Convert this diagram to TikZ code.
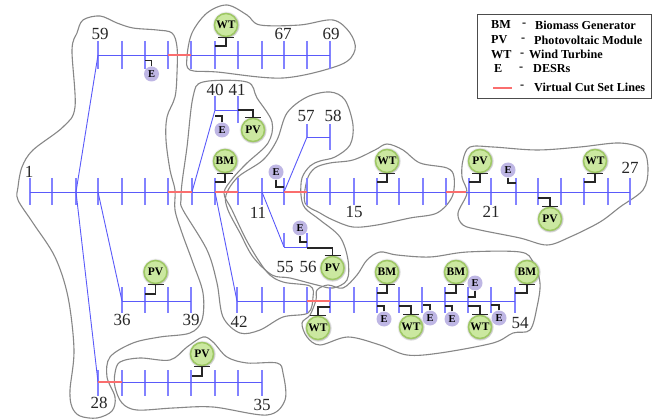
\documentclass[tikz,border=0pt]{standalone}
\usepackage{fontspec}
\setmainfont{Liberation Serif}
\usetikzlibrary{positioning,shadows}
\definecolor{busblue}{RGB}{90,90,250}
\definecolor{tickblue}{RGB}{130,130,255}
\definecolor{cutred}{RGB}{250,110,110}
\definecolor{zonegray}{RGB}{135,135,135}
\definecolor{srcgreen}{RGB}{203,232,160}
\definecolor{srcedge}{RGB}{158,200,100}
\definecolor{desrviolet}{RGB}{190,182,228}
\tikzset{
        bus/.style={draw=busblue, line width=0.9pt},
        bustick/.style={draw=tickblue, line width=1.2pt},
        cut/.style={draw=cutred, line width=1.5pt},
        zone/.style={draw=zonegray, line width=1.1pt},
        tie/.style={draw=black!85, line width=1.3pt},
        source/.style={circle, draw=srcedge, line width=1.5pt, fill=srcgreen, inner sep=0pt,
          minimum size=23pt, font=\bfseries\fontsize{11.5}{12}\selectfont,
          circular glow={fill=black!60, opacity=0.4, shadow scale=1.2}},
        desr/.style={circle, fill=desrviolet, inner sep=0pt, minimum size=15pt,
          font=\bfseries\fontsize{10.5}{12}\selectfont},
        busno/.style={font=\fontsize{17}{18}\selectfont, text=black!85, inner sep=0pt},
        legendtext/.style={anchor=west, inner sep=0pt, font=\bfseries\fontsize{12.2}{13}\selectfont}
}
\begin{document}
\begin{tikzpicture}[x=1pt,y=-1pt]
        \useasboundingbox (0,0) rectangle (652,419);
        \fill[white] (0,0) rectangle (652,419);

        \draw[zone] plot[smooth cycle, tension=0.55] coordinates {(77,33) (83,20) (100,16) (117,23)
          (133,28) (157,30) (172,33) (177,47) (177,73) (175,97) (167,117) (166,140) (170,170)
          (175,190) (175,210) (182,233) (193,263) (203,293) (202,320) (190,333) (160,337)
          (133,343) (110,357) (107,377) (115,397) (112,411) (97,418) (80,416) (72,407) (70,390) (74,350)
          (68,297) (55,257) (33,223) (18,200) (18,187) (22,167) (33,150) (63,127) (75,107) (72,50)};
        \draw[zone] plot[smooth cycle, tension=0.55] coordinates {(187,57) (192,33) (207,13) (227,5)
          (247,15) (260,25) (300,25) (333,20) (350,33) (355,50) (340,65) (283,78) (217,72) (190,70)};
        \draw[zone] plot[smooth cycle, tension=0.55] coordinates {(182,183) (187,147) (193,97)
          (203,82) (247,82) (257,98) (272,122) (268,143) (247,163) (233,178) (224,193) (232,210)
          (248,243) (267,272) (283,282) (310,286) (313,297) (308,313) (283,317) (260,330)
          (240,333) (223,317) (217,283) (207,250) (183,210) (181,200)};
        \draw[zone] plot[smooth cycle, tension=0.55] coordinates {(238,177) (263,160) (277,140)
          (287,113) (307,97) (330,92) (345,100) (353,125) (350,145) (335,157) (320,161) (310,166)
          (302,178) (301,195) (305,208) (320,220) (340,237) (348,260) (347,280) (333,288)
          (317,285) (290,278) (272,275) (253,257) (240,233) (228,210) (226,195)};
        \draw[zone] plot[smooth cycle, tension=0.55] coordinates {(353,160) (375,150) (387,144)
          (403,150) (420,163) (447,168) (454,177) (452,197) (437,213) (410,218) (377,225)
          (353,227) (333,220) (320,213) (305,203) (307,180) (315,168) (330,163)};
        \draw[zone] plot[smooth cycle, tension=0.55] coordinates {(463,160) (470,147) (493,147)
          (537,150) (580,147) (620,143) (643,150) (648,170) (643,190) (620,207) (600,222)
          (570,237) (547,245) (520,238) (480,230) (463,225) (458,213) (467,193) (462,177)};
        \draw[zone] plot[smooth cycle, tension=0.55] coordinates {(380,252) (397,255) (430,257)
          (467,252) (520,252) (533,262) (540,283) (537,307) (530,330) (513,333) (493,343)
          (440,353) (407,355) (380,345) (348,337) (320,345) (307,337) (302,323) (310,315)
          (316,300) (317,290) (328,285) (343,288) (357,275) (367,260)};
        \draw[zone] plot[smooth cycle, tension=0.55] coordinates {(115,387) (115,373) (120,362)
          (140,358) (170,360) (187,347) (203,337) (213,342) (227,357) (247,363) (277,363)
          (283,373) (285,400) (267,415) (213,407) (173,408) (137,410) (122,403)};

        \foreach \x in {30,52,76,98,122,145,168,192,215,238,262,284,307,330,354,377,399,423,446,469,491,516,538,561,584,608,630} {
          \coordinate (m\x) at (\x,192);
          \draw[bustick] (m\x) ++(0,-14) -- ++(0,27);
        }
        \foreach \x in {98,122,145,168,191,215,238,262,284,307,330} {
          \coordinate (t\x) at (\x,55);
          \draw[bustick] (t\x) ++(0,-14) -- ++(0,28);
        }
        \foreach \x in {122,145,168,191} {
          \coordinate (p\x) at (\x,301);
          \draw[bustick] (p\x) ++(0,-14) -- ++(0,26);
        }
        \foreach \x in {237,262,284,307,330,354,377,399,422,445,468,491,515} {
          \coordinate (q\x) at (\x,301);
          \draw[bustick] (q\x) ++(0,-14) -- ++(0,26);
        }
        \foreach \x in {98,122,145,168,191,215,238,262} {
          \coordinate (r\x) at (\x,382);
          \draw[bustick] (r\x) ++(0,-12) -- ++(0,26);
        }
        \coordinate (a215) at (215,110); \coordinate (a238) at (238,110);
        \draw[bustick] (a215) ++(0,-14) -- ++(0,14);
        \draw[bustick] (a238) ++(0,-14) -- ++(0,27);
        \coordinate (b307) at (307,137); \coordinate (b330) at (330,137);
        \draw[bustick] (b307) ++(0,-13) -- ++(0,13);
        \draw[bustick] (b330) ++(0,-13) -- ++(0,26);
        \coordinate (c284) at (284,247); \coordinate (c307) at (307,247);
        \draw[bustick] (c284) ++(0,-14) -- ++(0,14);
        \draw[bustick] (c307) ++(0,-14) -- ++(0,14);

        \draw[bus] (m30) -- (m630);
        \draw[bus] (t98) -- (t330);
        \draw[bus] (p122) -- (p191);
        \draw[bus] (q237) -- (q515);
        \draw[bus] (r122) -- (r262);
        \draw[bus] (a215) -- (a238);
        \draw[bus] (b307) -- (b330);
        \draw[bus] (c284) -- (c307);
        \draw[bus] (m76) -- (t98);
        \draw[bus] (m76) -- (r98);
        \draw[bus] (m98) -- (p122);
        \draw[bus] (m192) -- (a215);
        \draw[bus] (m215) -- (q237);
        \draw[bus] (m284) -- (b307);
        \draw[bus] (m262) -- (c284);
        \draw[cut] (m168) -- (m192);
        \draw[cut] (m215) -- (m238);
        \draw[cut] (m284) -- (m307);
        \coordinate (cutend) at (466,192);
        \draw[cut] (m446) -- (cutend);
        \draw[cut] (t168) -- (t191);
        \draw[cut] (q307) -- (q330);
        \draw[cut] (r98) -- (r122);

        \foreach \name/\txt/\x/\y/\tx/\ty in {wta/WT/226/25/215/46, bma/BM/225/161/215/182,
          wtb/WT/387/161/377/182, pva/PV/480/161/469/182, wtc/WT/595/161/584/182,
          pvb/PV/155.5/272/145/294, pvc/PV/202/354/192/376, bmb/BM/387/272/377/293,
          bmc/BM/456/272/445/293, bmd/BM/527/272/515/293} {
          \node[source] (\name) at (\x,\y) {\txt};
          \coordinate (\name bus) at (\tx,\ty);
          \draw[tie] (\name.south) |- (\name bus);
          \draw[tie] ([xshift=-8pt]\name.south) -- ([xshift=8pt]\name.south);
        }
        \foreach \name/\txt/\x/\y/\tx/\ty in {pvd/PV/253/130/238/110, pve/PV/550/219/538/198,
          pvf/PV/332.5/268/307/248, wtd/WT/318/328/330/307, wte/WT/411/327/399/306,
          wtf/WT/480/327/468/306} {
          \node[source] (\name) at (\x,\y) {\txt};
          \coordinate (\name bus) at (\tx,\ty);
          \draw[tie] (\name.north) |- (\name bus);
          \draw[tie] ([xshift=-8pt]\name.north) -- ([xshift=8pt]\name.north);
        }
        \foreach \name/\x/\y/\tx/\ty in {ea/151.5/74/145/60.5, eb/222/130/215/116,
          ec/384/319/377/306, ed/430/318/423/305, ee/452/319/445/306, ef/499/318/491/305} {
          \node[desr] (\name) at (\x,\y) {E};
          \coordinate (\name bus) at (\tx,\ty);
          \draw[tie] (\name.north) |- (\name bus);
        }
        \foreach \name/\x/\y/\tx/\ty in {eg/276/172/284/187, eh/508/170/516/183,
          ei/300/228/307/242, ej/475/283/468/297} {
          \node[desr] (\name) at (\x,\y) {E};
          \coordinate (\name bus) at (\tx,\ty);
          \draw[tie] (\name.south) |- (\name bus);
        }

        \foreach \name/\txt/\x/\y in {n1/1/29/172, n59/59/100/34, n40/40/215/90, n41/41/237/90,
          n57/57/306/116, n58/58/333/116, n67/67/283/34, n69/69/331/34, n11/11/258/213,
          n15/15/354/212, n21/21/491/212, n27/27/630/168, n36/36/122/320, n39/39/191/320,
          n42/42/239/322, n55/55/285/267, n56/56/308/267, n54/54/520/323, n28/28/99/403,
          n35/35/262/405}
          \node[busno] (\name) at (\x,\y) {\txt};

        \node[draw=black!70, line width=1pt, minimum width=174pt, minimum height=84pt] (legendbox) at (564,57) {};
        \node[legendtext] (lbm) at (491,25) {BM}; \node[legendtext] (lbmd) at (522,25) {-};
        \node[legendtext] (lbmt) at (535,25) {Biomass Generator};
        \node[legendtext] (lpv) at (491,40) {PV}; \node[legendtext] (lpvd) at (521,40) {-};
        \node[legendtext] (lpvt) at (534,40) {Photovoltaic Module};
        \node[legendtext] (lwt) at (491,54.5) {WT}; \node[legendtext] (lwtd) at (520,54.5) {-};
        \node[legendtext] (lwtt) at (529,54.5) {Wind Turbine};
        \node[legendtext] (le) at (494,69) {E}; \node[legendtext] (led) at (519,69) {-};
        \node[legendtext] (let) at (533,69) {DESRs};
        \node[legendtext] (lcd) at (520,87) {-};
        \node[legendtext] (lct) at (534,87) {Virtual Cut Set Lines};
        \coordinate (lcuta) at (493,88.2); \coordinate (lcutb) at (512,88.2);
        \draw[cut, line width=1.8pt] (lcuta) -- (lcutb);
      \end{tikzpicture}
\end{document}
